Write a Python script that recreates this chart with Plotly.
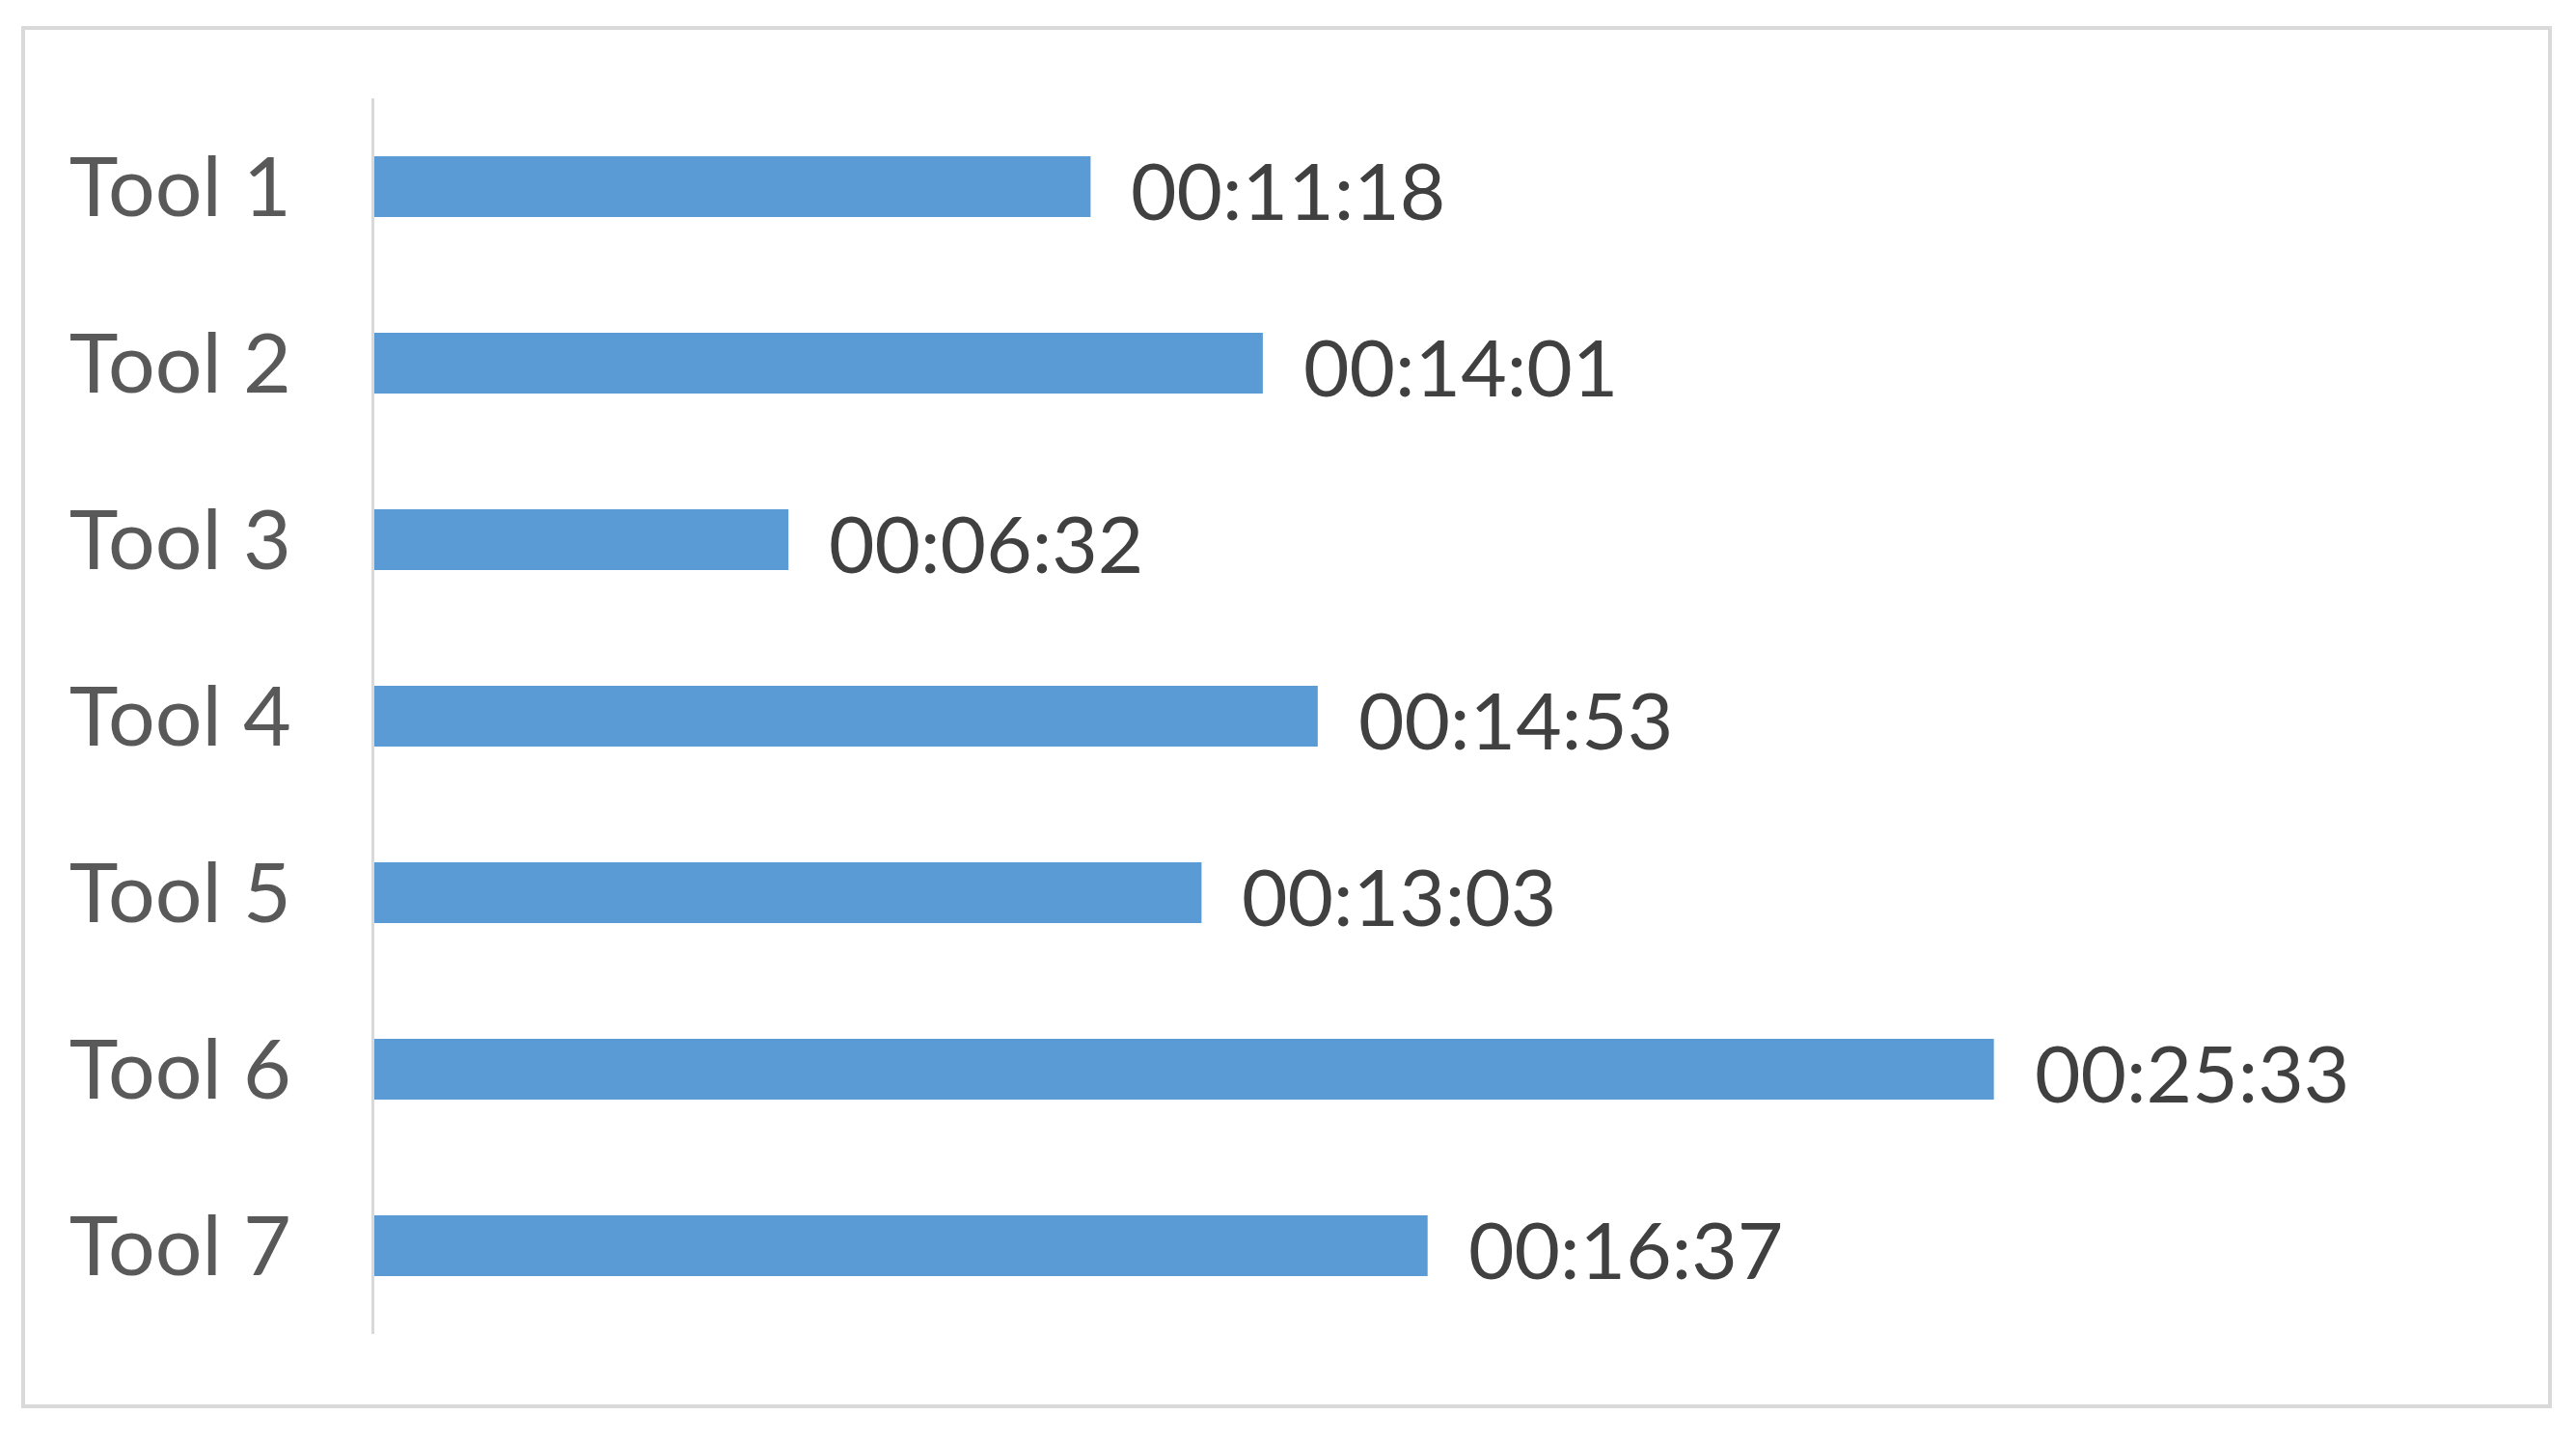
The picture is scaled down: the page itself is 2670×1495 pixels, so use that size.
"""Horizontal bar chart of time spent per tool."""
import plotly.graph_objects as go

# data (durations)
tools = ["Tool 1", "Tool 2", "Tool 3", "Tool 4", "Tool 5", "Tool 6", "Tool 7"]
durations = ["00:11:18", "00:14:01", "00:06:32", "00:14:53", "00:13:03", "00:25:33", "00:16:37"]


def to_seconds(hms):
    h, m, s = (int(p) for p in hms.split(":"))
    return h * 3600 + m * 60 + s


seconds = [to_seconds(d) for d in durations]

# page body has an 8px margin, so the figure is drawn 8px in from the window edge
PAD = 8
W, H = 2670 - 2 * PAD, 1495 - 2 * PAD
ML, MR, MT, MB = 388 - PAD, 311 - PAD, 102 - PAD, 112 - PAD
BAR_COLOR = "#5b9bd5"
FONT = "Lato"

fig = go.Figure()
fig.add_bar(
    x=seconds,
    y=tools,
    orientation="h",
    marker=dict(color=BAR_COLOR, line=dict(width=0)),
    width=0.344,
    hoverinfo="skip",
)

# data labels to the right of each bar
for tool, sec, label in zip(tools, seconds, durations):
    fig.add_annotation(
        x=sec, y=tool, text=label, showarrow=False,
        xanchor="left", yanchor="middle", xshift=40, yshift=-2,
        font=dict(family=FONT, size=82, color="#404040"),
    )

# outer chart border, converted from window pixels to paper coords
pw, ph = W - ML - MR, H - MT - MB
def px_x(v):
    return (v - PAD - ML) / pw
def px_y(v):
    return 1 - (v - PAD - MT) / ph

fig.add_shape(
    type="rect", xref="paper", yref="paper",
    x0=px_x(24), x1=px_x(2643), y0=px_y(1458), y1=px_y(29),
    line=dict(color="#d9d9d9", width=4), layer="below",
)

fig.update_layout(
    width=W, height=H,
    margin=dict(l=ML, r=MR, t=MT, b=MB),
    paper_bgcolor="white", plot_bgcolor="white",
    showlegend=False,
    font=dict(family=FONT, color="#595959"),
)
fig.update_xaxes(
    range=[0, 1800], visible=False, showgrid=False, zeroline=False,
)
fig.update_yaxes(
    autorange="reversed",
    showline=True, linecolor="#d9d9d9", linewidth=3,
    showgrid=False, zeroline=False, ticks="",
    ticklabelstandoff=66,
    tickfont=dict(family=FONT, size=86, color="#595959"),
)

fig.write_html("out.html")
